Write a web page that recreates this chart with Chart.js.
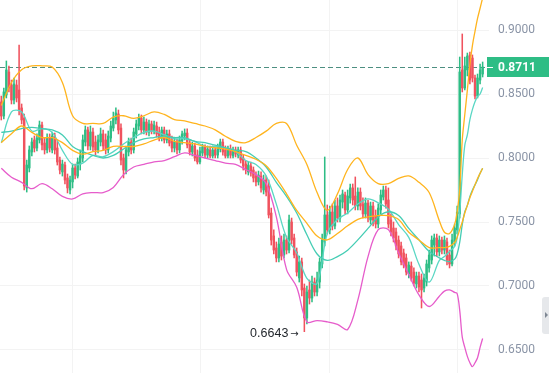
<!DOCTYPE html>
<html>
<head>
<meta charset="utf-8">
<script src="https://cdn.jsdelivr.net/npm/chart.js@4.4.1/dist/chart.umd.min.js"></script>
<style>
  html, body { margin: 0; padding: 0; background: #fff; }
  #wrap { width: 549px; height: 373px; }
</style>
</head>
<body>
<div id="wrap"><canvas id="chart" width="549" height="373"></canvas></div>
<script>
// candles, one per bar slot
const opens = [
  .8438,.8328,.8492,.8672,.8570,.8453,.8570,.8531,.8391,.8313,
  .7766,.7922,.8047,.8141,.8078,.8141,.8258,.8117,.8063,.8156,
  .8063,.8172,.8078,.7984,.7891,.7945,.7844,.7750,.7813,.7922,
  .7859,.7953,.8000,.8125,.8219,.8094,.8203,.8125,.8063,.8125,
  .8188,.8141,.8063,.8156,.8234,.8297,.8344,.8234,.8000,.7906,
  .8047,.8125,.8063,.8188,.8250,.8313,.8219,.8281,.8203,.8266,
  .8211,.8250,.8203,.8156,.8219,.8141,.8188,.8141,.8078,.8125,
  .8063,.8133,.8172,.8195,.8117,.8047,.8094,.8023,.7969,.8039,
  .8086,.8023,.8063,.8016,.8063,.8023,.8070,.8125,.8063,.8016,
  .8070,.8016,.8063,.8023,.8063,.8000,.7953,.7891,.7938,.7906,
  .7859,.7813,.7859,.7750,.7828,.7781,.7570,.7391,.7297,.7219,
  .7344,.7242,.7359,.7281,.7500,.7375,.7266,.7063,.7188,.6984,
  .6750,.6969,.6906,.7031,.6953,.7031,.7172,.7344,.7555,.7438,
  .7578,.7469,.7625,.7531,.7656,.7711,.7594,.7688,.7766,.7703,
  .7625,.7734,.7641,.7563,.7648,.7516,.7625,.7547,.7484,.7594,
  .7695,.7750,.7672,.7516,.7453,.7422,.7359,.7313,.7258,.7219,
  .7094,.7156,.7109,.7016,.7078,.7047,.6984,.7031,.7141,.7203,
  .7320,.7375,.7266,.7359,.7281,.7344,.7242,.7172,.7344,.7438,
  .7563,.8688,.8547,.8688,.8805,.8781,.8625,.8484,.8609,.8656
];
const closes = [
  .8328,.8516,.8688,.8547,.8453,.8578,.8469,.8375,.8297,.7781,
  .7945,.8063,.8125,.8078,.8156,.8258,.8102,.8063,.8156,.8078,
  .8172,.8063,.7969,.7906,.7953,.7828,.7766,.7828,.7922,.7867,
  .7969,.8016,.8141,.8219,.8094,.8203,.8086,.8063,.8141,.8188,
  .8094,.8063,.8172,.8250,.8313,.8352,.8219,.7984,.7906,.8063,
  .8125,.8063,.8203,.8266,.8313,.8219,.8281,.8203,.8266,.8211,
  .8258,.8188,.8156,.8219,.8141,.8188,.8117,.8078,.8125,.8063,
  .8141,.8188,.8195,.8102,.8047,.8094,.8000,.7969,.8055,.8086,
  .8023,.8070,.8016,.8063,.8023,.8086,.8125,.8047,.8016,.8070,
  .8023,.8063,.8031,.8063,.7984,.7938,.7906,.7945,.7883,.7844,
  .7813,.7867,.7766,.7828,.7734,.7555,.7359,.7281,.7219,.7328,
  .7234,.7359,.7281,.7516,.7359,.7242,.7109,.7188,.6969,.6750,
  .6953,.6906,.7031,.6953,.7047,.7188,.7359,.7555,.7438,.7578,
  .7469,.7625,.7531,.7672,.7719,.7594,.7703,.7766,.7672,.7625,
  .7734,.7625,.7563,.7648,.7531,.7625,.7516,.7484,.7609,.7711,
  .7750,.7641,.7484,.7422,.7375,.7313,.7250,.7188,.7164,.7109,
  .7164,.7063,.7023,.7078,.6992,.6969,.7063,.7172,.7242,.7359,
  .7375,.7266,.7359,.7281,.7359,.7203,.7172,.7359,.7453,.7578,
  .8672,.8547,.8719,.8797,.8609,.8625,.8484,.8625,.8688,.8711
];
const highs = [
  .8484,.8547,.8758,.8719,.8609,.8625,.8609,.8883,.8422,.8344,
  .7984,.8094,.8156,.8172,.8188,.8289,.8281,.8156,.8188,.8188,
  .8203,.8195,.8141,.8008,.7984,.7969,.7875,.7859,.7953,.7953,
  .8000,.8063,.8180,.8250,.8242,.8250,.8234,.8172,.8180,.8234,
  .8219,.8188,.8211,.8289,.8359,.8391,.8375,.8266,.8031,.8094,
  .8156,.8156,.8234,.8297,.8344,.8336,.8320,.8305,.8297,.8289,
  .8289,.8281,.8242,.8242,.8242,.8219,.8219,.8172,.8156,.8148,
  .8172,.8211,.8227,.8227,.8141,.8125,.8117,.8063,.8086,.8109,
  .8102,.8094,.8094,.8094,.8094,.8109,.8148,.8148,.8094,.8094,
  .8102,.8086,.8086,.8086,.8086,.8023,.7977,.7969,.7969,.7930,
  .7891,.7898,.7891,.7867,.7859,.7828,.7609,.7438,.7344,.7375,
  .7391,.7406,.7391,.7555,.7531,.7406,.7297,.7234,.7219,.7016,
  .7000,.7047,.7078,.7063,.7109,.7219,.7406,.8008,.7633,.7625,
  .7641,.7672,.7688,.7711,.7750,.7734,.7750,.7797,.7797,.7852,
  .7766,.7766,.7688,.7688,.7672,.7656,.7656,.7594,.7641,.7750,
  .7781,.7781,.7766,.7563,.7500,.7453,.7391,.7344,.7289,.7250,
  .7188,.7188,.7141,.7109,.7109,.7094,.7094,.7203,.7281,.7391,
  .7406,.7406,.7391,.7383,.7391,.7375,.7281,.7406,.7484,.7625,
  .8789,.8969,.8789,.8820,.8828,.8805,.8648,.8656,.8734,.8750
];
const lows = [
  .8297,.8305,.8469,.8516,.8422,.8422,.8438,.8336,.8266,.7750,
  .7734,.7891,.8016,.8047,.8055,.8117,.8063,.8031,.8039,.8047,
  .8039,.8031,.7945,.7875,.7859,.7797,.7727,.7719,.7766,.7836,
  .7844,.7906,.7969,.8094,.8063,.8063,.8055,.8023,.8039,.8094,
  .8063,.8031,.8039,.8125,.8211,.8266,.8188,.7945,.7844,.7875,
  .8016,.8031,.8039,.8156,.8219,.8188,.8188,.8180,.8172,.8188,
  .8188,.8164,.8133,.8133,.8117,.8117,.8094,.8047,.8047,.8031,
  .8039,.8109,.8141,.8078,.8023,.8016,.7977,.7953,.7953,.8016,
  .8000,.8000,.8000,.8000,.8000,.8000,.8047,.8023,.8000,.8000,
  .8000,.8000,.8008,.8000,.7961,.7906,.7875,.7867,.7859,.7813,
  .7781,.7789,.7734,.7719,.7703,.7531,.7320,.7250,.7188,.7188,
  .7203,.7219,.7250,.7258,.7328,.7219,.7078,.7031,.6922,.6643,
  .6703,.6859,.6875,.6922,.6922,.6984,.7141,.7313,.7406,.7406,
  .7438,.7445,.7500,.7500,.7609,.7563,.7563,.7648,.7633,.7594,
  .7594,.7594,.7531,.7531,.7500,.7484,.7469,.7453,.7453,.7563,
  .7672,.7609,.7453,.7391,.7344,.7281,.7219,.7164,.7141,.7086,
  .7063,.7039,.7000,.6984,.6953,.6828,.6953,.7000,.7109,.7172,
  .7234,.7234,.7234,.7250,.7250,.7164,.7141,.7156,.7313,.7406,
  .7531,.8516,.8531,.8641,.8578,.8594,.8461,.8469,.8578,.8633
];

// indicator lines, read at these bar slots
const lineIdx = [0,4,8,12,16,20,24,28,32,36,40,44,48,52,56,60,64,68,72,76,80,84,88,92,96,100,
  104,108,112,116,120,124,128,132,136,140,144,148,152,156,160,164,168,172,174,176,178,
  179,180,181,182,183,184,185,186,187,188,189];
const bandUpper = [.841,.859,.869,.872,.872,.871,.859,.833,.827,.827,.827,.832,.833,.831,.833,.836,
  .834,.830,.829,.827,.825,.822,.817,.813,.812,.816,.821,.827,.827,.810,.795,.773,.759,.772,.791,.800,
  .787,.780,.780,.784,.786,.781,.773,.751,.742,.741,.748,.758,.775,.814,.834,.853,.873,.888,.899,.909,.917,.925];
const bandMiddle = [.812,.819,.825,.820,.816,.816,.812,.806,.803,.805,.806,.809,.809,.809,.811,.814,
  .816,.813,.812,.811,.809,.808,.807,.805,.802,.799,.794,.784,.772,.759,.749,.739,.736,.741,.747,.752,
  .754,.755,.755,.752,.742,.736,.730,.730,.730,.731,.734,.738,.744,.750,.757,.763,.769,.774,.779,.784,.788,.792];
const bandLower = [.792,.785,.781,.776,.780,.776,.770,.768,.772,.773,.773,.777,.787,.793,.795,.797,
  .798,.801,.804,.802,.800,.798,.796,.795,.791,.787,.780,.754,.713,.699,.672,.673,.672,.670,.666,.689,
  .723,.744,.744,.726,.709,.693,.684,.692,.696,.697,.695,.694,.681,.660,.652,.645,.640,.637,.640,.644,.652,.659];
const maFast = [.812,.836,.836,.821,.823,.820,.806,.795,.796,.802,.801,.805,.811,.816,.820,.821,
  .818,.815,.815,.813,.809,.809,.808,.805,.798,.795,.786,.764,.738,.726,.706,.702,.741,.752,.757,.764,
  .768,.765,.760,.748,.738,.717,.703,.720,.723,.727,.731,.738,.757,.787,.810,.818,.830,.838,.844,.848,.850,.855];
const maSlow = [.820,.821,.823,.824,.823,.822,.818,.809,.805,.802,.800,.802,.807,.812,.815,.816,
  .817,.816,.816,.813,.812,.810,.808,.806,.805,.800,.793,.781,.770,.757,.740,.725,.720,.723,.728,.736,
  .745,.754,.758,.755,.745,.736,.727,.722,.720,.719,.721,.725,.734,.748,.758,.763,.770,.775,.779,.783,.788,.792];

const yTicks = [0.65, 0.70, 0.75, 0.80, 0.85, 0.90];
const gridX = [27.8, 78.2, 128.7, 179.3];
const lastPrice = 0.8711;
const lowIdx = 119;
const lowValue = 0.6643;

const GREEN = '#2ebd85';
const RED = '#f0525e';
const ORANGE = '#ffb41e';
const PINK = '#e65ccb';
const GRID = '#f3f3f3';

Chart.defaults.font.family = 'Roboto, "Liberation Sans", sans-serif';

const slots = closes.map((_, i) => i);
const candleColors = slots.map(i => closes[i] >= opens[i] ? GREEN : RED);

function indicator(values, color) {
    return {
        type: 'line',
        data: lineIdx.map((x, k) => ({ x, y: values[k] })),
        borderColor: color,
        borderWidth: 1.3,
        pointRadius: 0,
        tension: 0.35,
        fill: false,
        order: 1
    };
}

const overlay = {
    id: 'overlay',
    beforeDatasetsDraw(chart) {
        const { ctx, chartArea: a, scales: { y } } = chart;
        const py = Math.round(y.getPixelForValue(lastPrice)) + 0.5;
        ctx.save();
        ctx.strokeStyle = '#4d8f81';
        ctx.lineWidth = 1;
        ctx.setLineDash([5, 3]);
        ctx.beginPath();
        ctx.moveTo(a.left, py);
        ctx.lineTo(a.right, py);
        ctx.stroke();
        ctx.restore();
    },
    afterDraw(chart) {
        const { ctx, chartArea: a, scales: { x, y } } = chart;
        const W = chart.width;
        ctx.save();

        // last price tag on the axis
        const py = Math.round(y.getPixelForValue(lastPrice));
        ctx.fillStyle = GREEN;
        ctx.fillRect(a.right - 2, py - 10, W - a.right + 2, 20);
        ctx.strokeStyle = '#ffffff';
        ctx.lineWidth = 1;
        ctx.beginPath();
        ctx.moveTo(a.right - 2, py + 0.5);
        ctx.lineTo(a.right + 4, py + 0.5);
        ctx.stroke();
        ctx.fillStyle = '#ffffff';
        ctx.font = 'bold 12px Roboto, "Liberation Sans", sans-serif';
        ctx.textAlign = 'left';
        ctx.textBaseline = 'middle';
        ctx.fillText(lastPrice.toFixed(4), a.right + 9, py + 0.5);

        // low marker
        const lx = x.getPixelForValue(lowIdx);
        const ly = y.getPixelForValue(lowValue);
        ctx.fillStyle = '#1f2329';
        ctx.font = '12.5px "Liberation Sans", Arial, sans-serif';
        ctx.textAlign = 'right';
        ctx.fillText(lowValue.toFixed(4), lx - 16, ly + 2);
        ctx.font = '10px "DejaVu Sans", sans-serif';
        ctx.textAlign = 'left';
        ctx.fillText('\u2192', lx - 14, ly + 3);

        // scroll tab at the right edge
        ctx.fillStyle = '#e6e8eb';
        ctx.beginPath();
        ctx.roundRect(W - 7, 297, 12, 37, 3);
        ctx.fill();
        ctx.fillStyle = '#7f8894';
        ctx.beginPath();
        ctx.moveTo(W - 4, 312);
        ctx.lineTo(W - 1, 315);
        ctx.lineTo(W - 4, 318);
        ctx.closePath();
        ctx.fill();
        ctx.restore();
    }
};

new Chart(document.getElementById('chart'), {
    type: 'bar',
    data: {
        datasets: [
            indicator(bandUpper, ORANGE),
            indicator(bandMiddle, ORANGE),
            indicator(bandLower, PINK),
            indicator(maSlow, '#45cdb4'),
            indicator(maFast, '#5ad7c4'),
            {
                type: 'bar',
                data: slots.map(i => ({ x: i, y: [opens[i], closes[i]] })),
                backgroundColor: candleColors,
                borderWidth: 0,
                barThickness: 1.8,
                grouped: false,
                order: 2
            },
            {
                type: 'bar',
                data: slots.map(i => ({ x: i, y: [lows[i], highs[i]] })),
                backgroundColor: candleColors,
                borderWidth: 0,
                barThickness: 0.9,
                grouped: false,
                order: 3
            }
        ]
    },
    options: {
        responsive: false,
        animation: false,
        events: [],
        layout: { padding: 0 },
        plugins: { legend: { display: false }, tooltip: { enabled: false } },
        scales: {
            x: {
                type: 'linear',
                min: -0.5,
                max: 191.5,
                offset: false,
                grid: { color: GRID, drawTicks: false, offset: false },
                border: { display: false },
                ticks: { display: false },
                afterBuildTicks: s => { s.ticks = gridX.map(v => ({ value: v })); },
                afterFit: s => { s.height = 0; s.paddingLeft = 0; s.paddingRight = 0; }
            },
            y: {
                position: 'right',
                min: 0.632031,
                max: 0.923438,
                grid: { color: GRID, drawTicks: false },
                border: { display: false },
                ticks: {
                    padding: 9,
                    color: '#8a94a6',
                    font: { size: 12 },
                    callback: v => Number(v).toFixed(4)
                },
                afterBuildTicks: s => { s.ticks = yTicks.map(v => ({ value: v })); },
                afterFit: s => { s.width = 60; s.paddingTop = 0; s.paddingBottom = 0; }
            }
        }
    },
    plugins: [overlay]
});
</script>
</body>
</html>
